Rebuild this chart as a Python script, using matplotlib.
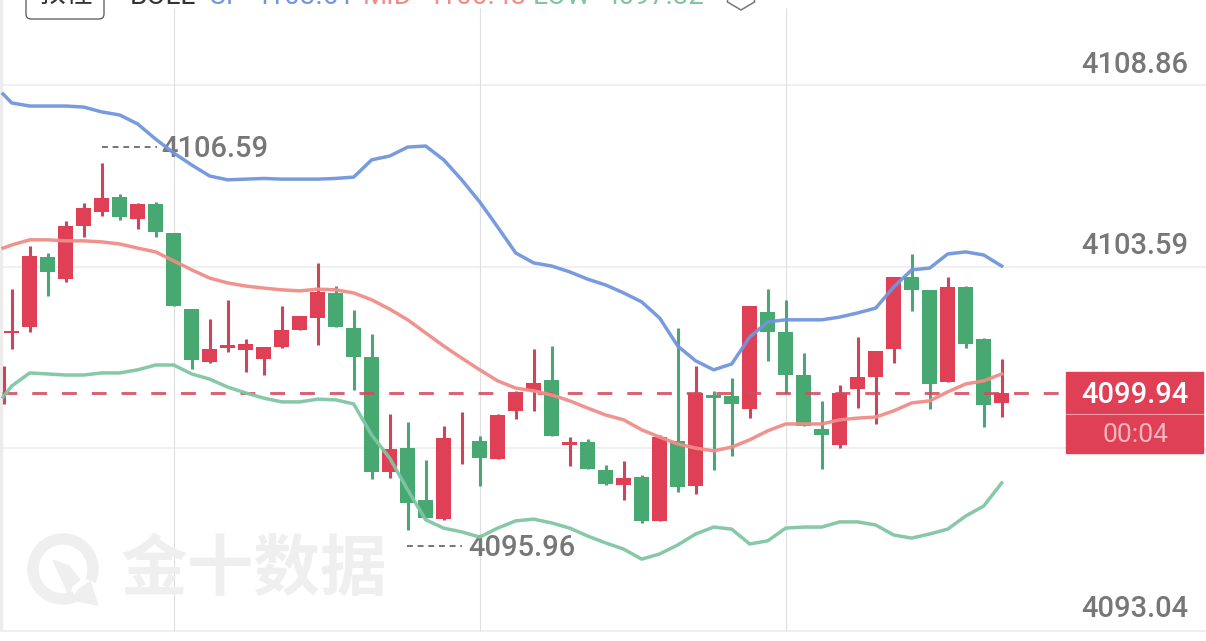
import matplotlib
matplotlib.use("Agg")
import matplotlib.pyplot as plt
from matplotlib.patches import FancyBboxPatch, Polygon, Rectangle, Wedge
from matplotlib.transforms import Affine2D

# open, high, low, close per candle
opens = [4101.67, 4101.84, 4103.87, 4103.23, 4104.77, 4105.18, 4105.61, 4104.97,
         4105.41, 4104.57, 4102.36, 4100.83, 4101.23, 4101.18, 4100.91, 4101.26,
         4101.76, 4102.10, 4102.83, 4101.81, 4100.97, 4097.64, 4098.33, 4096.83,
         4096.27, 4098.56, 4098.54, 4098.01, 4099.41, 4099.99, 4100.31, 4098.42,
         4098.51, 4097.70, 4097.26, 4097.49, 4096.22, 4098.54, 4097.23, 4099.87,
         4099.84, 4099.46, 4102.28, 4101.70, 4100.45, 4098.88, 4098.42, 4100.04,
         4100.39, 4101.20, 4103.29, 4102.92, 4100.25, 4103.00, 4101.49, 4099.64]
highs = [4102.94, 4104.19, 4103.99, 4104.92, 4105.44, 4106.59, 4105.70, 4105.44,
         4105.47, 4104.57, 4102.36, 4102.07, 4102.63, 4101.49, 4101.26, 4102.45,
         4102.16, 4103.70, 4103.03, 4102.34, 4101.64, 4099.32, 4099.09, 4097.99,
         4098.97, 4099.38, 4098.68, 4099.32, 4099.99, 4101.20, 4101.29, 4098.65,
         4098.59, 4097.84, 4097.96, 4097.55, 4098.71, 4101.81, 4100.71, 4099.99,
         4100.36, 4102.45, 4102.94, 4102.63, 4101.09, 4099.70, 4100.16, 4101.55,
         4101.15, 4103.29, 4103.96, 4102.92, 4103.29, 4103.03, 4101.52, 4100.91]
lows = [4101.20, 4101.70, 4102.74, 4103.15, 4104.45, 4105.06, 4104.95, 4104.68,
        4104.45, 4102.45, 4100.62, 4100.80, 4101.12, 4100.54, 4100.45, 4101.23,
        4101.76, 4101.32, 4101.84, 4100.02, 4097.43, 4097.46, 4095.96, 4096.30,
        4096.25, 4097.87, 4097.23, 4098.01, 4099.17, 4099.41, 4098.68, 4097.81,
        4097.72, 4097.26, 4096.83, 4096.16, 4096.22, 4097.06, 4097.00, 4097.70,
        4098.10, 4099.20, 4100.86, 4099.93, 4098.97, 4097.72, 4098.33, 4099.49,
        4099.03, 4100.80, 4102.31, 4099.46, 4100.25, 4101.23, 4098.94, 4099.23]
closes = [4101.73, 4103.90, 4103.44, 4104.77, 4105.29, 4105.58, 4105.03, 4105.41,
          4104.60, 4102.45, 4100.89, 4101.20, 4101.32, 4101.35, 4101.26, 4101.76,
          4102.16, 4102.86, 4101.84, 4100.97, 4097.64, 4098.30, 4096.74, 4096.30,
          4098.62, 4098.57, 4098.04, 4099.29, 4099.96, 4100.22, 4098.68, 4098.51,
          4097.72, 4097.29, 4097.46, 4096.22, 4098.65, 4097.20, 4099.93, 4099.78,
          4099.61, 4102.45, 4101.70, 4100.45, 4098.97, 4098.71, 4099.93, 4100.39,
          4101.15, 4103.29, 4102.92, 4100.19, 4103.00, 4101.35, 4099.58, 4099.94]

# bollinger bands, first value sits half a candle left of candle 0
boll_up = [4108.60, 4108.34, 4108.25, 4108.25, 4108.25, 4108.22, 4108.08, 4107.99,
           4107.73, 4107.29, 4106.89, 4106.54, 4106.22, 4106.11, 4106.13, 4106.15,
           4106.13, 4106.13, 4106.13, 4106.15, 4106.19, 4106.69, 4106.80, 4107.06,
           4107.09, 4106.69, 4106.11, 4105.47, 4104.74, 4103.99, 4103.70, 4103.61,
           4103.44, 4103.23, 4103.06, 4102.83, 4102.57, 4102.10, 4101.29, 4100.86,
           4100.60, 4100.77, 4101.55, 4101.99, 4102.05, 4102.05, 4102.05, 4102.13,
           4102.25, 4102.39, 4103.00, 4103.50, 4103.55, 4103.96, 4104.02, 4103.93,
           4103.61]
boll_mid = [4104.13, 4104.22, 4104.37, 4104.37, 4104.34, 4104.34, 4104.31, 4104.25,
            4104.13, 4104.02, 4103.76, 4103.50, 4103.26, 4103.12, 4103.03, 4102.97,
            4102.92, 4102.89, 4102.94, 4102.92, 4102.83, 4102.63, 4102.36, 4102.05,
            4101.67, 4101.29, 4100.94, 4100.60, 4100.28, 4100.07, 4099.99, 4099.87,
            4099.70, 4099.49, 4099.29, 4099.15, 4098.86, 4098.65, 4098.45, 4098.33,
            4098.25, 4098.36, 4098.57, 4098.83, 4099.03, 4099.03, 4099.03, 4099.15,
            4099.20, 4099.23, 4099.41, 4099.64, 4099.70, 4099.96, 4100.19, 4100.28,
            4100.48]
boll_low = [4099.81, 4100.13, 4100.51, 4100.48, 4100.45, 4100.45, 4100.51, 4100.51,
            4100.60, 4100.74, 4100.74, 4100.48, 4100.33, 4100.10, 4099.93, 4099.78,
            4099.67, 4099.67, 4099.75, 4099.73, 4099.61, 4098.71, 4098.04, 4097.12,
            4096.25, 4096.01, 4095.90, 4095.75, 4096.01, 4096.22, 4096.27, 4096.16,
            4096.01, 4095.78, 4095.58, 4095.40, 4095.11, 4095.26, 4095.52, 4095.84,
            4096.04, 4095.98, 4095.55, 4095.64, 4096.01, 4096.04, 4096.04, 4096.19,
            4096.19, 4096.10, 4095.81, 4095.72, 4095.84, 4095.98, 4096.36, 4096.65,
            4097.32]

price_ticks = [4108.86, 4103.59, 4093.04]
grid_prices = [4108.86, 4103.59, 4098.32, 4093.04]
time_grid = [9, 26, 43]
last_price = 4099.94
countdown = "00:04"
edge_wick = (4100.71, 4099.61)

RED = "#e04056"
GREEN = "#47a872"
WICK_RED = "#cf4459"
WICK_GREEN = "#4aa675"
BLUE = "#7196dc"
PINK = "#f08d88"
MINT = "#80c5a2"
GRAY = "#777777"
MARK = "#efefef"

W, H = 1206, 641
FONT = "Roboto"
WEIGHT = "medium"

fig = plt.figure(figsize=(W / 100, H / 100), dpi=100, facecolor="white")
ax = fig.add_axes([0, 0, 1, 1])
ax.set_xlim(-0.65, 66.35)
ax.set_ylim(4092.736, 4111.325)
ax.axis("off")

# everything that is not a price mark is placed in screen pixels, y going down
px = Affine2D().scale(1, -1).translate(0, H)


def draw_watermark():
    ax.add_patch(Wedge((63, 569), 35, 68, 382, width=10, color=MARK, transform=px, zorder=1))
    ax.add_patch(Polygon([(53, 560), (69, 566), (80, 580), (72, 586), (69, 595)],
                         color=MARK, transform=px, zorder=1))
    ax.add_patch(Polygon([(78, 590), (90, 582), (98, 605), (72, 600)],
                         color=MARK, transform=px, zorder=1))
    ax.text(254, 570, "金十数据", transform=px, ha="center", va="center", fontsize=48,
            fontweight="black", color=MARK, family="Noto Sans CJK SC", zorder=1)


def draw_header():
    ax.add_patch(FancyBboxPatch((26, -30), 78, 49, boxstyle="round,pad=0,rounding_size=5",
                                fc="white", ec="#555555", lw=0.9,
                                transform=px, clip_on=False, zorder=2))
    ax.text(65, -6, "教程", transform=px, ha="center", va="center", fontsize=20,
            color="#333333", family="Noto Sans CJK SC", zorder=3)
    parts = [("BOLL", 130, "#333333"), ("UP", 208, BLUE), ("4103.61", 253, BLUE),
             ("MID", 363, PINK), ("4100.48", 425, PINK), ("LOW", 533, MINT), ("4097.32", 603, MINT)]
    for label, x, color in parts:
        ax.text(x, 4, label, transform=px, ha="left", va="baseline", fontsize=20,
                color=color, family=FONT, zorder=3)
    ax.add_patch(Polygon([(741, -21), (754.5, -13), (754.5, 2), (741, 10), (727.5, 2), (727.5, -13)],
                         closed=True, fc="none", ec="#777777", lw=1.1, transform=px, zorder=3))


def draw_grid():
    for p in grid_prices:
        ax.axhline(p, color="#f0f0f0", lw=1.4, zorder=1)
    for i in time_grid:
        ax.vlines(i, grid_prices[-1], 4111.1, color="#dedede", lw=0.8, zorder=1)
    ax.add_patch(Rectangle((0, 0), 2, 630, color="#ececec", transform=px, zorder=1))


def draw_candles():
    for i, (o, h, l, c) in enumerate(zip(opens, highs, lows, closes)):
        body, wick = (RED, WICK_RED) if c >= o else (GREEN, WICK_GREEN)
        ax.vlines(i, l, h, color=wick, lw=2.2, zorder=3)
        ax.bar(i, abs(c - o), bottom=min(o, c), width=0.83, color=body, lw=0, zorder=3)
    ax.vlines(-0.42, edge_wick[1], edge_wick[0], color=WICK_RED, lw=2.2, zorder=3)


def draw_bands():
    xs = [-0.48] + list(range(len(opens)))
    for values, color in [(boll_up, BLUE), (boll_mid, PINK), (boll_low, MINT)]:
        ax.plot(xs, values, color=color, lw=2.5, alpha=0.95, zorder=5, solid_joinstyle="round")


def draw_extremes():
    # highest and lowest price markers
    for text_x, y, line_x0, line_x1 in [(161, 147, 102, 157), (468, 546, 407, 462)]:
        value = max(highs) if y < 300 else min(lows)
        ax.plot([line_x0, line_x1], [y, y], color=GRAY, lw=1.45, dashes=(2.9, 2.4),
                dash_capstyle="butt", transform=px, zorder=2)
        ax.text(text_x, y + 2, f"{value:.2f}", transform=px, ha="left", va="center",
                fontsize=21, fontweight=WEIGHT, color=GRAY, family=FONT, zorder=2)


def draw_price_axis():
    for p, y in zip(price_ticks, [65, 246, 609]):
        ax.text(1188, y, f"{p:.2f}", transform=px, ha="right", va="center",
                fontsize=21, fontweight=WEIGHT, color=GRAY, family=FONT, zorder=4)


def draw_last_price():
    ax.plot([-0.55, 58.6], [last_price, last_price], color="#d34a5f", lw=2.1, alpha=0.88,
            dashes=(5.1, 5.1), dash_capstyle="butt", zorder=4)
    ax.add_patch(Rectangle((1066, 372), 137, 81, color=RED, transform=px, zorder=6))
    ax.plot([1066, 1203], [414, 414], color="#f09aa6", lw=0.8, transform=px, zorder=7)
    ax.text(1135, 395, f"{last_price:.2f}", transform=px, ha="center", va="center",
            fontsize=21, fontweight=WEIGHT, color="white", family=FONT, zorder=7)
    ax.text(1135, 435, countdown, transform=px, ha="center", va="center",
            fontsize=19, color="#f6b6bf", family=FONT, zorder=7)


draw_grid()
draw_watermark()
draw_header()
draw_extremes()
draw_candles()
draw_last_price()
draw_bands()
draw_price_axis()

fig.savefig("out.png", dpi=100)
